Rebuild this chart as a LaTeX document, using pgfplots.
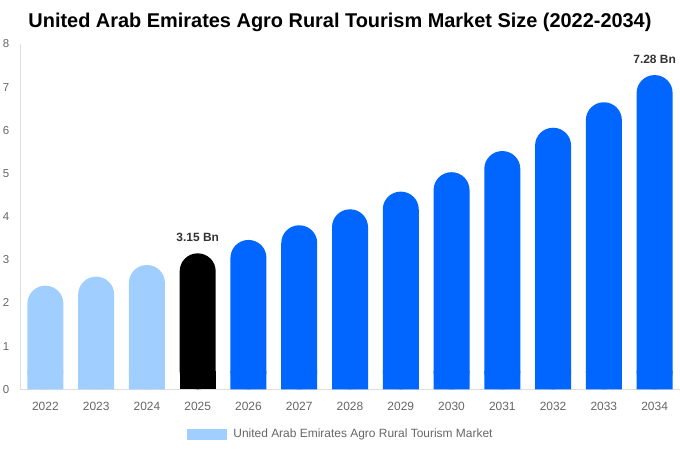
\documentclass[border=0pt]{standalone}
\usepackage{pgfplots}
\pgfplotsset{compat=1.18}
\usepackage{fontspec}
\setmainfont{Liberation Sans}
\definecolor{barlight}{HTML}{A0CFFF}
\definecolor{barblue}{HTML}{0066FF}
\definecolor{axisgray}{HTML}{DDDDDD}
\definecolor{tickgray}{HTML}{666666}
\definecolor{labelgray}{HTML}{333333}
\begin{document}
\begin{tikzpicture}
\useasboundingbox (0,0) rectangle (680bp,450bp);
\node[anchor=base, font=\fontsize{20}{24}\selectfont\bfseries] at (340bp,422.3bp) {United Arab Emirates Agro Rural Tourism Market Size (2022-2034)};
\begin{axis}[
  at={(20bp,60.7bp)}, anchor=south west,
  scale only axis, width=660bp, height=345.3bp,
  xmin=-0.5, xmax=12.5, ymin=0, ymax=8,
  axis x line*=bottom, axis y line*=left,
  axis line style={draw=axisgray, line width=0.8bp, -},
  major tick length=0pt,
  xtick={0,1,2,3,4,5,6,7,8,9,10,11,12},
  xticklabels={2022,2023,2024,2025,2026,2027,2028,2029,2030,2031,2032,2033,2034},
  ytick={0,1,2,3,4,5,6,7,8},
  tick label style={text=tickgray},
  xticklabel style={font=\fontsize{12}{14}\selectfont, inner sep=0pt, yshift=-12.4bp},
  yticklabel style={font=\fontsize{11.5}{13}\selectfont, inner sep=0pt, anchor=east, xshift=-10.5bp},
  /pgf/number format/assume math mode=true,
  ybar, bar width=36bp,
  clip=false,
  legend style={at={(0.4848,-0.1295)}, anchor=center, draw=none, fill=none,
    font=\fontsize{12}{14}\selectfont, text=tickgray, inner sep=0pt, nodes={inner sep=0pt}},
  legend image code/.code={\fill[barlight, sharp corners] (0bp,-5.5bp) rectangle (40bp,5.5bp); \path (0bp,0bp) -- (46bp,0bp);},
  nodes near coords style={font=\fontsize{12}{14}\selectfont\bfseries, text=labelgray, anchor=south, inner sep=0pt, yshift=11.5bp},
]
\addplot[fill=barlight, draw=none, rounded corners=17.9bp, bar shift=0pt] coordinates {(0,2.40) (1,2.61) (2,2.88)};
\addlegendentry{United Arab Emirates Agro Rural Tourism Market}
\addplot[fill=barlight, draw=none, bar shift=0pt, forget plot] coordinates {(0,0.42) (1,0.42) (2,0.42)};
\addplot[fill=black, draw=none, rounded corners=17.9bp, bar shift=0pt, forget plot, nodes near coords={3.15 Bn}] coordinates {(3,3.15)};
\addplot[fill=black, draw=none, bar shift=0pt, forget plot] coordinates {(3,0.42)};
\addplot[fill=barblue, draw=none, rounded corners=17.9bp, bar shift=0pt, forget plot] coordinates {(4,3.46) (5,3.80) (6,4.17) (7,4.58) (8,5.03) (9,5.52) (10,6.06) (11,6.65)};
\addplot[fill=barblue, draw=none, rounded corners=17.9bp, bar shift=0pt, forget plot, nodes near coords={7.28 Bn}] coordinates {(12,7.28)};
\addplot[fill=barblue, draw=none, bar shift=0pt, forget plot] coordinates {(4,0.42) (5,0.42) (6,0.42) (7,0.42) (8,0.42) (9,0.42) (10,0.42) (11,0.42) (12,0.42)};
\end{axis}
\end{tikzpicture}
\end{document}
